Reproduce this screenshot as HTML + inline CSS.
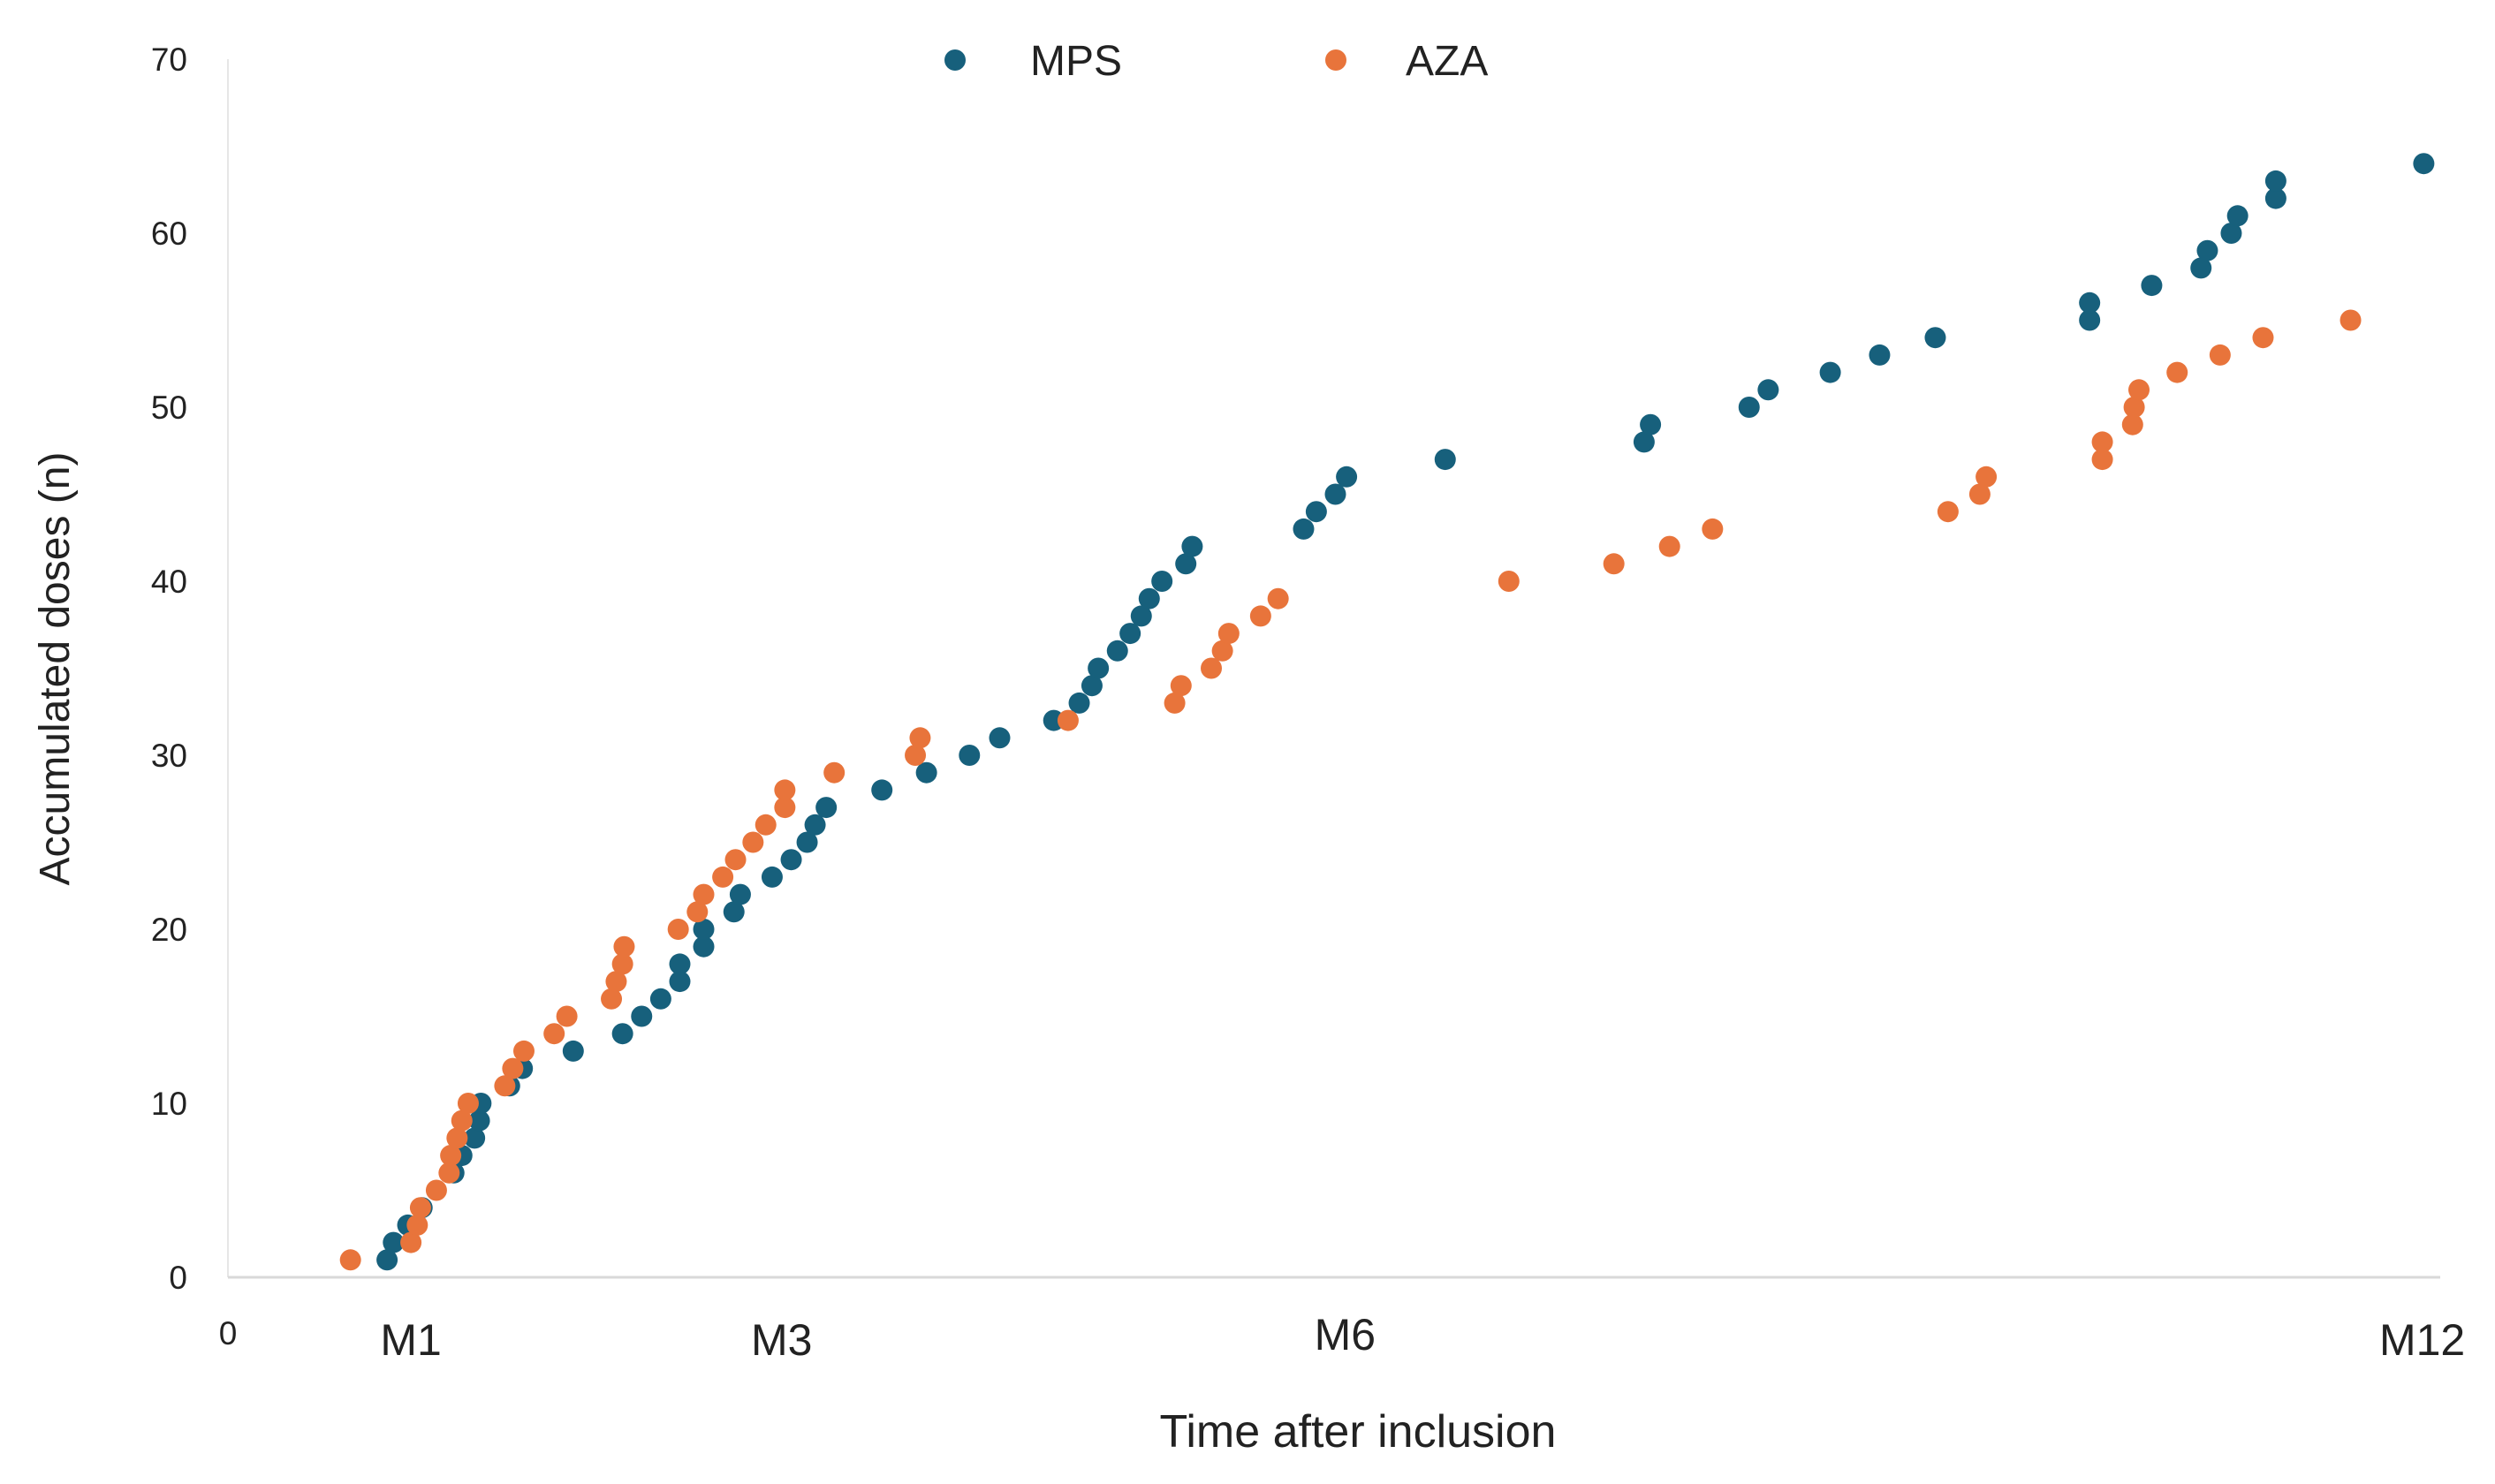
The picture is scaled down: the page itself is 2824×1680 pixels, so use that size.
<!DOCTYPE html>
<html><head><meta charset="utf-8"><style>
html,body{margin:0;padding:0;background:#fff}
svg{display:block}
text{font-family:"Liberation Sans",sans-serif;fill:#222}
</style></head><body>
<svg id="chart" width="2824" height="1680" viewBox="0 0 2824 1680" xmlns="http://www.w3.org/2000/svg">
<g id="axes"></g>
<g id="marks"></g>
<g>
<circle cx="1081" cy="68" r="12" fill="#17607c"/>
<text x="1166" y="85" font-size="48">MPS</text>
<circle cx="1512" cy="68" r="12" fill="#e8743b"/>
<text x="1591" y="85" font-size="48">AZA</text>
</g>
<text transform="translate(78,757) rotate(-90)" text-anchor="middle" font-size="48">Accumulated doses (n)</text>
<text x="1537" y="1638" text-anchor="middle" font-size="52">Time after inclusion</text>
</svg>
<script>
// x values are in timeline units (0 = inclusion), y values = accumulated doses
const yTicks = [0,10,20,30,40,50,60,70];
const xTickLabels = ["0","M1","M3","M6","M12"];
const xTickPos = [0,115,348,702,1379];
const xTickDy = [0,12,12,6,12];
const mpsX = [100,104,113,122,142,147,155,158,159,177,185,217,248,260,272,284,284,299,299,318,322,342,354,364,369,376,411,439,466,485,519,535,543,547,559,567,574,579,587,602,606,676,684,696,703,765,890,894,956,968,1007,1038,1073,1170,1170,1209,1240,1244,1259,1263,1287,1287,1380];
const mpsY = [1,2,3,4,6,7,8,9,10,11,12,13,14,15,16,17,18,19,20,21,22,23,24,25,26,27,28,29,30,31,32,33,34,35,36,37,38,39,40,41,42,43,44,45,46,47,48,49,50,51,52,53,54,55,56,57,58,59,60,61,62,63,64];
const azaX = [77,115,119,121,131,139,140,144,147,151,174,179,186,205,213,241,244,248,249,283,295,299,311,319,330,338,350,350,381,432,435,528,595,599,618,625,629,649,660,805,871,906,933,1081,1101,1105,1178,1178,1197,1198,1201,1225,1252,1279,1334];
const azaY = [1,2,3,4,5,6,7,8,9,10,11,12,13,14,15,16,17,18,19,20,21,22,23,24,25,26,27,28,29,30,31,32,33,34,35,36,37,38,39,40,41,42,43,44,45,46,47,48,49,50,51,52,53,54,55];

const X0=258, XS=1.801, Y0=1446, YS=(1446-67)/70;
function sx(v){return X0+v*XS;}
function sy(v){return Y0-v*YS;}
const NS="http://www.w3.org/2000/svg";
const axes=document.getElementById('axes'), marks=document.getElementById('marks');
function mk(tag,attrs,parent){const e=document.createElementNS(NS,tag);for(const k in attrs)e.setAttribute(k,attrs[k]);parent.appendChild(e);return e;}

const yl=mk('line',{x1:X0,y1:sy(70),x2:X0,y2:Y0,stroke:'#e6e6e6','stroke-width':2},axes);


const xl=mk('line',{x1:X0,y1:Y0,x2:2762,y2:Y0,stroke:'#d9d9d9','stroke-width':3},axes);



yTicks.forEach(v=>{
  const t=mk('text',{x:212,y:sy(v)+13,'text-anchor':'end','font-size':37},axes);
  t.textContent=String(v);
  
  
});
xTickLabels.forEach((s,i)=>{
  const isZero=i===0;
  const t=mk('text',{x:sx(xTickPos[i]),y:isZero?1522:1522+xTickDy[i],'text-anchor':'middle','font-size':isZero?37:50},axes);
  t.textContent=s;
  
  
});

mpsX.forEach((v,i)=>{
  const c=mk('circle',{cx:sx(v),cy:sy(mpsY[i]),r:12,fill:'#17607c'},marks);
  
  
});
azaX.forEach((v,i)=>{
  const c=mk('circle',{cx:sx(v),cy:sy(azaY[i]),r:12,fill:'#e8743b'},marks);
  
  
});
</script>
</body></html>
